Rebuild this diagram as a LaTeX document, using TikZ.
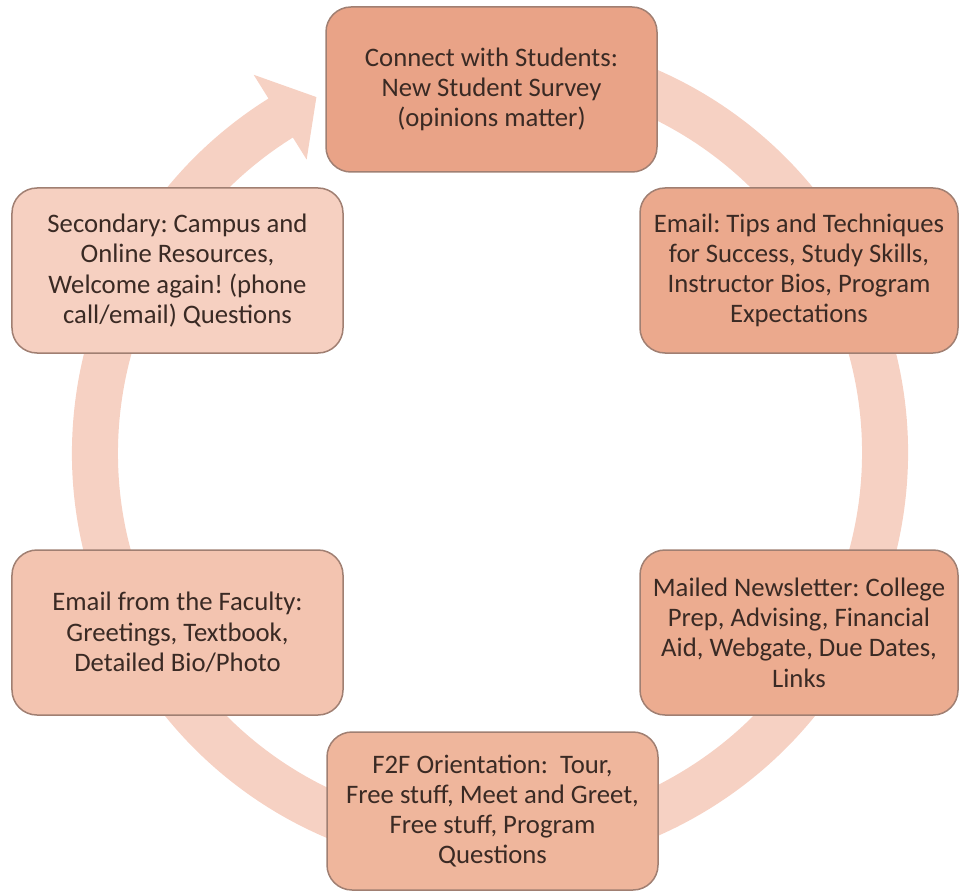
\documentclass[tikz,border=0pt]{standalone}
\usepackage{fontspec}
\setmainfont{Carlito}
\frenchspacing
\definecolor{ringpink}{HTML}{F6D1C3}
\definecolor{boxline}{HTML}{A07F72}
\definecolor{boxtext}{HTML}{3A2A24}
\definecolor{salmonA}{HTML}{E9A387}
\definecolor{salmonB}{HTML}{EBA98D}
\definecolor{salmonC}{HTML}{ECAC90}
\definecolor{salmonD}{HTML}{EFB69C}
\definecolor{salmonE}{HTML}{F3C4B0}
\definecolor{salmonF}{HTML}{F6D0C1}
\begin{document}
\begin{tikzpicture}[x=0.2mm,y=0.2mm,
    cyclebox/.style={draw=boxline, line width=0.3mm, rounded corners=5mm,
      align=center, text=boxtext, font=\fontsize{15.2}{17.2}\selectfont,
      minimum height=33mm, inner sep=0pt},
    wide/.style={minimum width=66.2mm},
    narrow/.style={minimum width=63.6mm}]
\useasboundingbox (0,0) rectangle (960,-892);
% ring with arrow head
\begin{scope}[shift={(490,-453)}]
\fill[ringpink] (80:418) arc[start angle=80, end angle=-238, radius=418]
    -- (122:446) -- (116:396) -- (122:346) -- (122:372)
    arc[start angle=122, end angle=440, radius=372] -- cycle;
\end{scope}
% boxes
\node[cyclebox, wide, fill=salmonA] (survey) at (491.5,-89.5)
    {Connect with Students:\\New Student Survey\\(opinions matter)};
\node[cyclebox, narrow, fill=salmonB] (tips) at (799,-270.5)
    {Email: Tips and Techniques\\for Success, Study Skills,\\Instructor Bios, Program\\Expectations};
\node[cyclebox, narrow, fill=salmonC] (newsletter) at (799,-632.5)
    {Mailed Newsletter: College\\Prep, Advising, Financial\\Aid, Webgate, Due Dates,\\Links};
\node[cyclebox, wide, fill=salmonD, minimum height=31.6mm] (orientation) at (492.5,-811)
    {F2F Orientation:\ \ Tour,\\Free stuff, Meet and Greet,\\Free stuff, Program\\Questions};
\node[cyclebox, wide, fill=salmonE] (faculty) at (177.5,-632.5)
    {Email from the Faculty:\\Greetings, Textbook,\\Detailed Bio/Photo};
\node[cyclebox, wide, fill=salmonF] (secondary) at (177.5,-270.5)
    {Secondary: Campus and\\Online Resources,\\Welcome again! (phone\\call/email) Questions};
\end{tikzpicture}
\end{document}
